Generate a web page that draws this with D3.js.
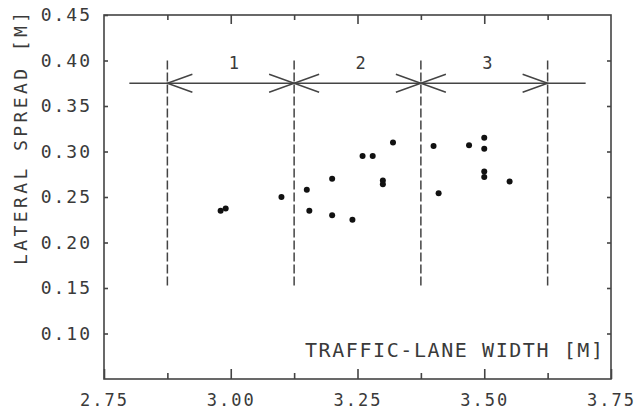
<!DOCTYPE html>
<html>
<head>
<meta charset="utf-8">
<script src="https://cdn.jsdelivr.net/npm/d3@7"></script>
<style>
	html, body { margin: 0; padding: 0; background: #fff; }
	text { font-family: "DejaVu Sans Mono", monospace; fill: #3a3a3a; }
</style>
</head>
<body>
<svg id="scene" width="638" height="414"></svg>
<script>
// lane width [m] vs lateral spread [m]
const laneWidth = [2.98, 2.99, 3.10, 3.15, 3.155, 3.20, 3.20, 3.24, 3.26, 3.28, 3.30, 3.30, 3.32, 3.40, 3.41, 3.47, 3.50, 3.50, 3.50, 3.50, 3.55];
const lateralSpread = [0.235, 0.2375, 0.25, 0.258, 0.235, 0.27, 0.23, 0.225, 0.295, 0.295, 0.268, 0.264, 0.31, 0.306, 0.254, 0.307, 0.315, 0.303, 0.278, 0.272, 0.267];

const classBounds = [2.875, 3.125, 3.375, 3.625];
const classLabels = ['1', '2', '3'];
const arrowLevel = 0.375;
const arrowSpan = [2.8, 3.7];
const dashSpan = [0.15, 0.40];

const xTicks = [2.75, 3.00, 3.25, 3.50, 3.75];
const xMinorTicks = [2.875, 3.125, 3.375, 3.625];
const yTicks = [0.10, 0.15, 0.20, 0.25, 0.30, 0.35, 0.40, 0.45];

const ink = '#444';

let svg = d3.select('#scene');
let scaleX = d3.scaleLinear().domain([2.75, 3.75]).range([104, 611]);
let scaleY = d3.scaleLinear().domain([0.05, 0.45]).range([379, 15]);

// frame
svg.append('rect')
	.attr('x', scaleX(2.75)).attr('y', scaleY(0.45))
	.attr('width', scaleX(3.75) - scaleX(2.75))
	.attr('height', scaleY(0.05) - scaleY(0.45))
	.attr('fill', 'none').attr('stroke', ink).attr('stroke-width', 1.6);

let fmt = d3.format('.2f');

// bottom and top ticks (inward)
let bottom = d3.axisBottom(scaleX).tickValues(xTicks).tickSizeInner(-10).tickSizeOuter(0).tickPadding(15).tickFormat(fmt);
let gx = svg.append('g').attr('transform', `translate(0,${scaleY(0.05)})`).call(bottom);
gx.select('.domain').remove();
gx.selectAll('line').attr('stroke', ink).attr('stroke-width', 1.6);
gx.selectAll('text').attr('font-size', 17).attr('letter-spacing', 2).attr('fill', ink).attr('font-family', '"DejaVu Sans Mono", monospace');

svg.append('g').attr('transform', `translate(0,${scaleY(0.05)})`)
	.call(d3.axisBottom(scaleX).tickValues(xMinorTicks).tickSizeInner(-6).tickSizeOuter(0).tickFormat(''))
	.call(g => g.select('.domain').remove())
	.selectAll('line').attr('stroke', ink).attr('stroke-width', 1.6);

svg.append('g').attr('transform', `translate(0,${scaleY(0.45)})`)
	.call(d3.axisTop(scaleX).tickValues(xTicks.slice(1, -1)).tickSizeInner(-9).tickSizeOuter(0).tickFormat(''))
	.call(g => g.select('.domain').remove())
	.selectAll('line').attr('stroke', ink).attr('stroke-width', 1.6);

svg.append('g').attr('transform', `translate(0,${scaleY(0.45)})`)
	.call(d3.axisTop(scaleX).tickValues(xMinorTicks).tickSizeInner(-5).tickSizeOuter(0).tickFormat(''))
	.call(g => g.select('.domain').remove())
	.selectAll('line').attr('stroke', ink).attr('stroke-width', 1.6);

// left and right ticks
let left = d3.axisLeft(scaleY).tickValues(yTicks).tickSizeInner(-4).tickSizeOuter(0).tickPadding(12).tickFormat(fmt);
let gy = svg.append('g').attr('transform', `translate(${scaleX(2.75)},0)`).call(left);
gy.select('.domain').remove();
gy.selectAll('line').attr('stroke', ink).attr('stroke-width', 1.6);
gy.selectAll('text').attr('font-size', 18).attr('letter-spacing', 2).attr('fill', ink).attr('font-family', '"DejaVu Sans Mono", monospace');

svg.append('g').attr('transform', `translate(${scaleX(3.75)},0)`)
	.call(d3.axisRight(scaleY).tickValues(yTicks.slice(0, -1)).tickSizeInner(-4).tickSizeOuter(0).tickFormat(''))
	.call(g => g.select('.domain').remove())
	.selectAll('line').attr('stroke', ink).attr('stroke-width', 1.6);

// axis titles
svg.append('text')
	.attr('transform', `translate(27,${(12 + 265) / 2}) rotate(-90)`)
	.attr('text-anchor', 'middle')
	.attr('font-size', 18)
	.attr('textLength', 253).attr('lengthAdjust', 'spacing')
	.text('LATERAL SPREAD [M]');

svg.append('text')
	.attr('x', 305).attr('y', 357)
	.attr('font-size', 20)
	.attr('textLength', 298).attr('lengthAdjust', 'spacing')
	.text('TRAFFIC-LANE WIDTH [M]');

// class boundaries
svg.append('g').selectAll('line').data(classBounds).enter().append('line')
	.attr('x1', d => scaleX(d)).attr('x2', d => scaleX(d))
	.attr('y1', scaleY(dashSpan[1])).attr('y2', scaleY(dashSpan[0]))
	.attr('stroke', ink).attr('stroke-width', 1.5)
	.attr('stroke-dasharray', '9,3');

svg.append('line')
	.attr('x1', scaleX(arrowSpan[0])).attr('x2', scaleX(arrowSpan[1]))
	.attr('y1', scaleY(arrowLevel)).attr('y2', scaleY(arrowLevel))
	.attr('stroke', ink).attr('stroke-width', 1.5);

// open arrowheads at both ends of every class interval
let heads = [];
for (let i = 0; i < classBounds.length - 1; i++) {
	heads.push({ x: classBounds[i], dir: 1 });
	heads.push({ x: classBounds[i + 1], dir: -1 });
}
let ay = scaleY(arrowLevel);
svg.append('g').selectAll('path').data(heads).enter().append('path')
	.attr('d', d => {
		let tx = scaleX(d.x);
		let bx = tx + d.dir * 25;
		return `M${bx},${ay - 9}L${tx},${ay}L${bx},${ay + 9}`;
	})
	.attr('fill', 'none').attr('stroke', ink).attr('stroke-width', 1.5);

svg.append('g').selectAll('text').data(classLabels).enter().append('text')
	.attr('x', (d, i) => scaleX((classBounds[i] + classBounds[i + 1]) / 2) + 3)
	.attr('y', 69)
	.attr('text-anchor', 'middle')
	.attr('font-size', 17)
	.text(d => d);

// measurements
svg.append('g').selectAll('circle').data(laneWidth).enter().append('circle')
	.attr('cx', (d) => scaleX(d))
	.attr('cy', (d, i) => scaleY(lateralSpread[i]))
	.attr('r', 3)
	.attr('fill', '#111');
</script>
</body>
</html>
